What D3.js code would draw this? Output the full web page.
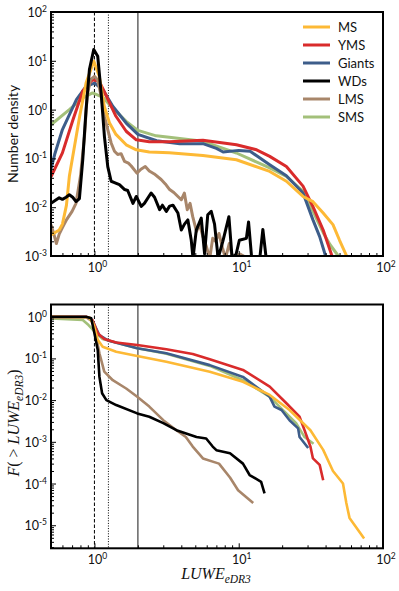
<!DOCTYPE html>
<html>
<head>
<meta charset="utf-8">
<script src="https://cdn.jsdelivr.net/npm/d3@7"></script>
<style>
  body { margin: 0; background: #fff; }
  text { font-family: Lato, "Noto Sans", sans-serif; fill: #111; }
</style>
</head>
<body>
<script>
var width = 399,
    height = 591;

// series names, legend order, colours
var names = ["MS", "YMS", "Giants", "WDs", "LMS", "SMS"];
var colors = ["#fdb935", "#d92b2b", "#3d5d8a", "#000000", "#a8866a", "#a3c07a"];
var drawOrder = ["SMS", "Giants", "YMS", "LMS", "MS", "WDs"];

// reference lines (LUWE)
var vDashed = 1.0, vDotted = 1.25, vSolid = 2.0;

// top panel: number density, [LUWE, density]
var densMS = [[0.5,0.0027],[0.57,0.0034],[0.6,0.0045],[0.64,0.011],[0.67,0.043],[0.79,0.73],[0.875,3.5],[0.99,9.8],[1.08,4.8],[1.17,1.17],[1.27,0.54],[1.41,0.31],[1.66,0.19],[1.95,0.15],[2.4,0.135],[3.3,0.13],[5.65,0.115],[9.64,0.094],[16.4,0.054],[21.4,0.034],[27.9,0.0166],[32.7,0.013],[38.5,0.0076],[45,0.0044],[50,0.0021],[56,0.001]];
var densYMS = [[0.5,0.042],[0.6,0.13],[0.71,0.62],[0.83,2.4],[0.97,4.1],[1.08,3.8],[1.21,1.9],[1.41,0.73],[1.66,0.36],[1.95,0.24],[2.4,0.22],[3.3,0.22],[5.65,0.235],[9.64,0.19],[13.3,0.15],[16.4,0.11],[21.4,0.068],[27.9,0.027],[32.7,0.0103],[38.5,0.0034],[44.3,0.001]];
var densGiants = [[0.5,0.06],[0.53,0.12],[0.6,0.39],[0.75,1.6],[0.875,3.0],[1.0,3.5],[1.14,2.6],[1.34,1.17],[1.66,0.53],[2.0,0.31],[2.7,0.23],[3.9,0.2],[5.65,0.2],[7.0,0.16],[7.8,0.135],[10.0,0.146],[12,0.14],[16.4,0.074],[21.4,0.044],[27.9,0.0195],[32.7,0.0055],[36.4,0.0025],[40,0.001]];
var densWDs = [[0.5,0.012],[0.54,0.014],[0.57,0.0156],[0.6,0.0145],[0.636,0.016],[0.67,0.018],[0.707,0.016],[0.746,0.013],[0.787,0.015],[0.83,0.094],[0.875,1.0],[0.923,6.6],[0.989,17],[1.054,12.4],[1.113,2.2],[1.173,0.28],[1.237,0.068],[1.306,0.034],[1.377,0.032],[1.49,0.029],[1.62,0.023],[1.7,0.022],[1.85,0.012],[1.95,0.0166],[2.11,0.0104],[2.22,0.012],[2.47,0.0195],[2.61,0.016],[2.83,0.0089],[2.96,0.011],[3.15,0.0082],[3.32,0.0105],[3.5,0.011],[3.79,0.0076],[4.0,0.0034],[4.21,0.0045],[4.44,0.0055],[4.69,0.0021],[4.82,0.0009],[5.08,0.0034],[5.5,0.006],[5.8,0.0011],[6.1,0.007],[6.45,0.0082],[6.8,0.0045],[7.2,0.0009],[7.76,0.002],[8.55,0.0064],[9.0,0.0009],[9.6,0.0011],[10.1,0.0021],[11.3,0.0023],[11.7,0.005],[12.3,0.0009],[14.0,0.0009],[14.7,0.0035],[15.5,0.0009]];
var densLMS = [[0.5,0.0044],[0.52,0.003],[0.545,0.0018],[0.57,0.0028],[0.6,0.0038],[0.64,0.0055],[0.7,0.0082],[0.745,0.012],[0.8,0.043],[0.853,0.28],[0.89,1.9],[0.94,4.1],[1.0,4.8],[1.05,4.1],[1.113,1.9],[1.173,0.73],[1.237,0.39],[1.306,0.207],[1.377,0.14],[1.45,0.12],[1.53,0.125],[1.616,0.087],[1.72,0.08],[1.8,0.07],[1.97,0.05],[2.1,0.06],[2.25,0.068],[2.4,0.055],[2.6,0.048],[2.9,0.037],[3.1,0.03],[3.32,0.023],[3.55,0.02],[3.79,0.0166],[4.0,0.0142],[4.2,0.0195],[4.4,0.0089],[4.6,0.012],[4.8,0.0064],[5.1,0.0032],[5.35,0.0045],[5.65,0.0025],[5.95,0.0016],[6.3,0.0009],[6.6,0.0023],[6.9,0.002],[7.3,0.0029],[7.7,0.0015],[8.1,0.0009],[8.6,0.0018],[9.1,0.0009],[10.2,0.0011],[11.5,0.0009],[12.4,0.001]];
var densSMS = [[0.5,0.49],[0.67,1.0],[0.83,1.74],[0.97,2.2],[1.14,1.8],[1.34,1.08],[1.66,0.575],[2.0,0.375],[2.68,0.29],[3.3,0.27],[5.65,0.224],[9.64,0.129],[16.4,0.064],[21.4,0.043],[27.9,0.021],[32.7,0.0082],[38.5,0.003],[43,0.0017],[49,0.001]];

// bottom panel: cumulative fraction F(>LUWE), [LUWE, F]
var cdfMS = [[0.5,0.99],[0.92,0.97],[0.99,0.63],[1.054,0.28],[1.14,0.19],[1.415,0.145],[1.98,0.114],[3.15,0.083],[6.3,0.048],[10.7,0.0276],[16.4,0.0133],[22.5,0.0058],[31.4,0.0019],[38.5,0.00064],[45,0.0002],[52.8,0.0001],[55.7,0.000034],[58.6,0.000015],[74,0.0000048]];
var cdfYMS = [[0.5,1.0],[0.875,1.0],[0.97,0.83],[1.054,0.4],[1.17,0.29],[1.415,0.24],[1.98,0.21],[3.15,0.165],[4.8,0.128],[6.3,0.095],[10.7,0.053],[16.4,0.021],[21.4,0.0084],[26.4,0.004],[28.6,0.0019],[31.4,0.00077],[32.7,0.0004],[36.4,0.00028],[38.5,0.00012]];
var cdfGiants = [[0.5,0.97],[0.92,0.96],[0.99,0.69],[1.083,0.36],[1.24,0.27],[1.98,0.175],[3.15,0.133],[6.3,0.069],[10.7,0.036],[16.4,0.012],[17.7,0.007],[19.8,0.0058],[22.5,0.0033],[25.8,0.0021],[26.4,0.0013],[30.3,0.00071]];
var cdfWDs = [[0.5,1.0],[0.875,1.0],[0.95,0.915],[1.0,0.4],[1.054,0.16],[1.083,0.036],[1.13,0.0146],[1.21,0.01],[1.415,0.0076],[1.98,0.0048],[2.4,0.004],[3.0,0.0028],[3.7,0.0019],[5.1,0.0013],[5.95,0.0012],[6.6,0.00077],[7.0,0.00063],[8.7,0.00053],[10.7,0.0003],[11.9,0.00016],[14.3,0.00011],[15.1,0.000058]];
var cdfLMS = [[0.5,0.97],[0.875,0.97],[0.973,0.76],[1.03,0.33],[1.083,0.133],[1.17,0.048],[1.34,0.03],[1.66,0.019],[1.98,0.012],[2.4,0.007],[3.0,0.0033],[3.7,0.0019],[4.3,0.0013],[4.8,0.00077],[5.65,0.0004],[7.3,0.0003],[8.7,0.00014],[9.9,0.000069],[12.6,0.000034]];
var cdfSMS = [[0.5,0.91],[0.83,0.83],[0.91,0.63],[1.03,0.4],[1.14,0.29],[1.98,0.175],[3.15,0.13],[6.3,0.066],[10.7,0.03],[16.4,0.012],[25,0.0028],[28.6,0.0013],[33,0.0009]];

var densData = {MS: densMS, YMS: densYMS, Giants: densGiants, WDs: densWDs, LMS: densLMS, SMS: densSMS};
var cdfData = {MS: cdfMS, YMS: cdfYMS, Giants: cdfGiants, WDs: cdfWDs, LMS: cdfLMS, SMS: cdfSMS};

var xDomain = [0.5, 100],
    topYDomain = [1e-3, 1e2],
    botYDomain = [2.8e-6, 1.96];
var xMajor = [1, 10, 100],
    topYMajor = [1e-3, 1e-2, 1e-1, 1, 10, 100],
    botYMajor = [1e-5, 1e-4, 1e-3, 1e-2, 1e-1, 1];

var svg = d3.select("body").append("svg")
    .attr("width", width)
    .attr("height", height);

var left = 51, right = 383;

var x = d3.scaleLog().domain(xDomain).range([left, right]);

function supLabel(sel, v) {
  var e = Math.round(Math.log10(v));
  sel.append("tspan").text("10");
  sel.append("tspan").attr("dy", -5).attr("font-size", 8.5).text(e);
}

function panel(top, bottom, yDomain, yMajor, data, lineW, id) {
  var y = d3.scaleLog().domain(yDomain).range([bottom, top]);
  var g = svg.append("g");

  g.append("clipPath").attr("id", id)
    .append("rect").attr("x", left).attr("y", top)
    .attr("width", right - left).attr("height", bottom - top);

  // reference lines
  var refs = g.append("g");
  refs.append("line").attr("x1", x(vDashed)).attr("x2", x(vDashed))
    .attr("y1", top).attr("y2", bottom)
    .attr("stroke", "#000").attr("stroke-width", 1).attr("stroke-dasharray", "3.5,2");
  refs.append("line").attr("x1", x(vDotted)).attr("x2", x(vDotted))
    .attr("y1", top).attr("y2", bottom)
    .attr("stroke", "#000").attr("stroke-width", 1).attr("stroke-dasharray", "1,1.6");
  refs.append("line").attr("x1", x(vSolid)).attr("x2", x(vSolid))
    .attr("y1", top).attr("y2", bottom)
    .attr("stroke", "#6e6e6e").attr("stroke-width", 1.6);

  var line = d3.line()
    .x(function(d) { return x(d[0]); })
    .y(function(d) { return y(Math.max(d[1], yDomain[0] * 0.5)); });

  g.append("g").attr("clip-path", "url(#" + id + ")")
    .selectAll("path")
    .data(drawOrder)
    .enter().append("path")
    .attr("d", function(n) { return line(data[n]); })
    .attr("fill", "none")
    .attr("stroke", function(n) { return colors[names.indexOf(n)]; })
    .attr("stroke-width", lineW)
    .attr("stroke-linejoin", "round");

  // axes (ticks inward)
  var xMinor = x.ticks().filter(function(v) { return xMajor.indexOf(v) < 0; });
  var yMinor = y.ticks().filter(function(v) { return yMajor.indexOf(v) < 0; });

  var ax = g.append("g").attr("transform", "translate(0," + bottom + ")");
  ax.call(d3.axisBottom(x).tickValues(xMajor).tickSize(-5).tickSizeOuter(0).tickFormat(function() { return ""; }));
  ax.append("g").call(d3.axisBottom(x).tickValues(xMinor).tickSize(-3).tickSizeOuter(0).tickFormat(function() { return ""; }));

  var ay = g.append("g").attr("transform", "translate(" + left + ",0)");
  ay.call(d3.axisLeft(y).tickValues(yMajor).tickSize(-5).tickSizeOuter(0).tickFormat(function() { return ""; }));
  ay.append("g").call(d3.axisLeft(y).tickValues(yMinor).tickSize(-3).tickSizeOuter(0).tickFormat(function() { return ""; }));

  g.selectAll(".tick line").attr("stroke", "#000").attr("stroke-width", 1);
  g.selectAll(".domain").remove();

  g.selectAll(".xlab").data(xMajor).enter().append("text")
    .attr("class", "xlab")
    .attr("x", function(v) { return x(v) + 3; })
    .attr("y", bottom + 16)
    .attr("text-anchor", "middle")
    .attr("font-size", 12.5)
    .each(function(v) { supLabel(d3.select(this), v); });

  g.selectAll(".ylab").data(yMajor).enter().append("text")
    .attr("class", "ylab")
    .attr("x", left - 4)
    .attr("y", function(v) { return y(v) + 5; })
    .attr("text-anchor", "end")
    .attr("font-size", 12.5)
    .each(function(v) { supLabel(d3.select(this), v); });

  // frame
  g.append("rect").attr("x", left).attr("y", top)
    .attr("width", right - left).attr("height", bottom - top)
    .attr("fill", "none").attr("stroke", "#000").attr("stroke-width", 2);

  return y;
}

panel(12, 256, topYDomain, topYMajor, densData, 3, "clipTop");
panel(304.5, 548.3, botYDomain, botYMajor, cdfData, 2.6, "clipBot");

// legend
var leg = svg.append("g").selectAll("g")
    .data(names)
    .enter().append("g")
    .attr("transform", function(d, i) { return "translate(303," + (27 + i * 18) + ")"; });
leg.append("line").attr("x1", 0).attr("x2", 27)
    .attr("stroke", function(d, i) { return colors[i]; })
    .attr("stroke-width", 3);
leg.append("text").attr("x", 35).attr("y", 4.5)
    .attr("font-size", 13).text(function(d) { return d; });

// axis titles
svg.append("text")
    .attr("transform", "translate(18,134) rotate(-90)")
    .attr("text-anchor", "middle")
    .attr("font-size", 14)
    .text("Number density");

var mathFont = "'Liberation Serif', 'DejaVu Serif', serif";

var yt = svg.append("text")
    .attr("transform", "translate(19,423) rotate(-90)")
    .attr("text-anchor", "middle")
    .attr("font-size", 16)
    .style("font-family", mathFont);
yt.append("tspan").attr("font-style", "italic").text("F");
yt.append("tspan").text("( > ");
yt.append("tspan").attr("font-style", "italic").text("LUWE");
yt.append("tspan").attr("font-style", "italic").attr("font-size", 11.5).attr("dy", 3.5).text("eDR3");
yt.append("tspan").attr("dy", -3.5).text(")");

var xt = svg.append("text")
    .attr("x", 216).attr("y", 579)
    .attr("text-anchor", "middle")
    .attr("font-size", 16)
    .style("font-family", mathFont);
xt.append("tspan").attr("font-style", "italic").text("LUWE");
xt.append("tspan").attr("font-style", "italic").attr("font-size", 11.5).attr("dy", 3.5).text("eDR3");
</script>
</body>
</html>
